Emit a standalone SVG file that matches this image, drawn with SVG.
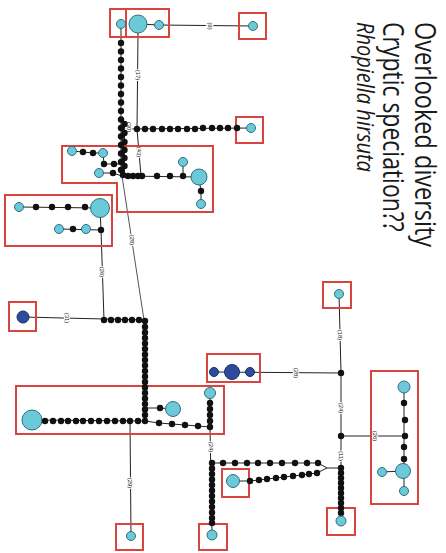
<svg xmlns="http://www.w3.org/2000/svg" width="446" height="553" viewBox="0 0 446 553">
<style>
.bg{fill:#ffffff}
.box{fill:none;stroke:#d9443f;stroke-width:2}
.e{stroke:#222;stroke-width:1;fill:none}
.eg{stroke:#555;stroke-width:1;fill:none}
.c{fill:#6ccad8;stroke:#2e6f82;stroke-width:1}
.b{fill:#2d4c9e;stroke:#1a2d66;stroke-width:1}
.d{fill:#111}
.lbl{font-family:"Liberation Sans",Arial,sans-serif;font-size:6px;fill:#222;text-anchor:middle;dominant-baseline:central;stroke:#fff;stroke-width:2;paint-order:stroke}
.t{font-family:"Open Sans","Liberation Sans",sans-serif;fill:#1a1a1a}
</style>
<rect class="bg" width="446" height="553"/>

<g id="title">
<text class="t" font-size="23.5" transform="translate(415,22) scale(1.25,1) rotate(90)">Overlooked diversity</text>
<text class="t" font-size="23" transform="translate(383,22) scale(1.25,1) rotate(90)">Cryptic speciation??</text>
<text class="t" font-size="20" font-style="italic" transform="translate(357,22) scale(1.15,1) rotate(90)">Rhopiella hirsuta</text>
</g>

<g id="connectors">
<line class="e" x1="121" y1="24" x2="121" y2="176"/>
<line class="e" x1="124.5" y1="122" x2="124.5" y2="176"/>
<line class="e" x1="138" y1="24" x2="159" y2="25"/>
<line class="e" x1="159" y1="25" x2="253" y2="26"/>
<line class="e" x1="138" y1="33" x2="137" y2="129"/>
<line class="e" x1="121" y1="129" x2="251" y2="128"/>
<line class="e" x1="137" y1="129" x2="141" y2="176"/>
<polyline class="e" points="72,151 83,152 93,153 103,153 104,164 114,164 121,164"/>
<polyline class="e" points="99,173 113,173 122,176 199,177"/>
<line class="e" x1="183" y1="162" x2="183" y2="176"/>
<polyline class="e" points="200,185 201,191 201,204"/>
<line class="eg" x1="122" y1="176" x2="144" y2="320"/>
<line class="e" x1="19" y1="207" x2="100" y2="208"/>
<line class="e" x1="59" y1="229" x2="101" y2="230"/>
<line class="e" x1="100" y1="208" x2="101" y2="230"/>
<line class="e" x1="101" y1="230" x2="104" y2="320"/>
<line class="e" x1="23" y1="317" x2="145" y2="320"/>
<line class="e" x1="145" y1="320" x2="145" y2="421"/>
<polyline class="e" points="145,408 160,408 173,409"/>
<polyline class="e" points="32,420 145,421 159,423 172,424 185,425 198,426 210,427 210,393"/>
<line class="e" x1="130" y1="421" x2="131" y2="536"/>
<line class="e" x1="210" y1="427" x2="212" y2="535"/>
<polyline class="e" points="212,463 318,463 327,468 341,468"/>
<polyline class="e" points="233,481 250,481 259,480 267,479 276,478 284,477 293,476 302,475 309,474 317,473 327,468"/>
<line class="e" x1="341" y1="468" x2="341" y2="521"/>
<line class="e" x1="341" y1="468" x2="341" y2="373"/>
<line class="e" x1="341" y1="436" x2="405" y2="436"/>
<line class="e" x1="341" y1="373" x2="214" y2="372"/>
<line class="e" x1="341" y1="373" x2="339" y2="294"/>
<line class="e" x1="404" y1="387" x2="404" y2="491"/>
<line class="e" x1="382" y1="472" x2="403" y2="471"/>

<text class="lbl" transform="translate(210,26) rotate(90)">(9)</text>
<text class="lbl" transform="translate(138,75) rotate(90)">(17)</text>
<text class="lbl" transform="translate(129,127) rotate(90)">(30)</text>
<text class="lbl" transform="translate(139,152) rotate(90)">(43)</text>
<text class="lbl" transform="translate(132,240) rotate(90)">(28)</text>
<text class="lbl" transform="translate(102,272) rotate(90)">(26)</text>
<text class="lbl" transform="translate(67,318) rotate(90)">(31)</text>
<text class="lbl" transform="translate(130,483) rotate(90)">(29)</text>
<text class="lbl" transform="translate(211,447) rotate(90)">(24)</text>
<text class="lbl" transform="translate(296,373) rotate(90)">(28)</text>
<text class="lbl" transform="translate(341,408) rotate(90)">(24)</text>
<text class="lbl" transform="translate(375,436) rotate(90)">(26)</text>
<text class="lbl" transform="translate(341,456) rotate(90)">(11)</text>
<text class="lbl" transform="translate(340,335) rotate(90)">(18)</text>
</g>

<g id="boxes">
<rect class="box" x="110" y="9" width="16" height="28"/>
<rect class="box" x="126" y="9" width="43" height="28"/>
<rect class="box" x="239" y="13" width="27" height="26"/>
<rect class="box" x="236" y="117" width="27" height="26"/>
<polygon class="box" points="62,146 213,146 213,212 117,212 117,183 62,183"/>
<rect class="box" x="5" y="195" width="107" height="51"/>
<rect class="box" x="9" y="302" width="27" height="29"/>
<rect class="box" x="16" y="386" width="208" height="48"/>
<rect class="box" x="116" y="524" width="27" height="26"/>
<rect class="box" x="199" y="524" width="28" height="26"/>
<rect class="box" x="222" y="469" width="27" height="28"/>
<rect class="box" x="327" y="508" width="28" height="27"/>
<rect class="box" x="207" y="354" width="53" height="28"/>
<rect class="box" x="323" y="282" width="28" height="26"/>
<rect class="box" x="371" y="371" width="47" height="133"/>
</g>

<g id="n-top-left"><circle class="c" cx="121" cy="24" r="4.5"/></g>
<g id="n-top-big"><circle class="c" cx="138" cy="24" r="9"/><circle class="c" cx="159" cy="25" r="4.5"/></g>
<g id="n-top-right"><circle class="c" cx="253" cy="26" r="4.5"/></g>
<g id="chain-top">
<circle class="d" cx="121" cy="43" r="3.2"/><circle class="d" cx="121" cy="51.5" r="3.2"/><circle class="d" cx="121" cy="60" r="3.2"/><circle class="d" cx="121" cy="68.5" r="3.2"/><circle class="d" cx="121" cy="77" r="3.2"/><circle class="d" cx="121" cy="85.5" r="3.2"/><circle class="d" cx="121" cy="94" r="3.2"/><circle class="d" cx="121" cy="102.5" r="3.2"/><circle class="d" cx="121" cy="111" r="3.2"/><circle class="d" cx="121" cy="119.5" r="3.2"/><circle class="d" cx="121" cy="128" r="3.2"/><circle class="d" cx="121" cy="136.5" r="3.2"/><circle class="d" cx="121" cy="145" r="3.2"/><circle class="d" cx="121" cy="153.5" r="3.2"/><circle class="d" cx="121" cy="162" r="3.2"/><circle class="d" cx="121" cy="170" r="3.2"/>
<circle class="d" cx="124.5" cy="124" r="3.2"/><circle class="d" cx="124.5" cy="133" r="3.2"/><circle class="d" cx="124.5" cy="142" r="3.2"/><circle class="d" cx="124.5" cy="150" r="3.2"/><circle class="d" cx="124.5" cy="158" r="3.2"/><circle class="d" cx="124.5" cy="166" r="3.2"/><circle class="d" cx="123" cy="175" r="3.2"/>
</g>
<g id="chain-row-top">
<circle class="d" cx="137" cy="129" r="3.2"/><circle class="d" cx="145" cy="129" r="3.2"/><circle class="d" cx="153" cy="129" r="3.2"/><circle class="d" cx="162" cy="129" r="3.2"/><circle class="d" cx="170" cy="129" r="3.2"/><circle class="d" cx="178" cy="129" r="3.2"/><circle class="d" cx="187" cy="129" r="3.2"/><circle class="d" cx="195" cy="129" r="3.2"/><circle class="d" cx="203" cy="128" r="3.2"/><circle class="d" cx="212" cy="128" r="3.2"/><circle class="d" cx="220" cy="128" r="3.2"/><circle class="d" cx="228" cy="128" r="3.2"/><circle class="d" cx="237" cy="128" r="3.2"/>
</g>
<g id="n-row-top-end"><circle class="c" cx="251" cy="128" r="4.5"/></g>

<g id="cluster-c">
<circle class="c" cx="72" cy="151" r="4.5"/><circle class="d" cx="83" cy="152" r="3.2"/><circle class="d" cx="93" cy="153" r="3.2"/><circle class="c" cx="103" cy="153" r="4.5"/>
<circle class="d" cx="104" cy="164" r="3.2"/><circle class="d" cx="114" cy="164" r="3.2"/>
<circle class="c" cx="99" cy="173" r="4.5"/><circle class="d" cx="113" cy="173" r="3.2"/>
<circle class="d" cx="128" cy="176" r="3.2"/><circle class="d" cx="133" cy="176" r="3.2"/><circle class="d" cx="138" cy="176" r="3.2"/><circle class="d" cx="142" cy="176" r="3.2"/>
<circle class="d" cx="157" cy="176" r="3.2"/><circle class="d" cx="170" cy="176" r="3.2"/><circle class="d" cx="183" cy="176" r="3.2"/>
<circle class="c" cx="183" cy="162" r="4.5"/>
<circle class="c" cx="199" cy="177" r="8"/>
<circle class="d" cx="201" cy="191" r="3.2"/><circle class="c" cx="201" cy="204" r="4.5"/>
</g>

<g id="cluster-d">
<circle class="c" cx="19" cy="207" r="4.5"/><circle class="d" cx="36" cy="207" r="3.2"/><circle class="d" cx="52" cy="207" r="3.2"/><circle class="d" cx="68" cy="207" r="3.2"/><circle class="d" cx="85" cy="207" r="3.2"/>
<circle class="c" cx="100" cy="208" r="9.5"/>
<circle class="c" cx="59" cy="229" r="4.5"/><circle class="d" cx="73" cy="229" r="3.2"/><circle class="c" cx="86" cy="229" r="4.5"/><circle class="d" cx="101" cy="230" r="3.2"/>
</g>

<g id="n-blue-left"><circle class="b" cx="23" cy="317" r="6"/></g>
<g id="chain-mid">
<circle class="d" cx="104" cy="320" r="3.2"/><circle class="d" cx="111" cy="320" r="3.2"/><circle class="d" cx="118" cy="320" r="3.2"/><circle class="d" cx="125" cy="320" r="3.2"/><circle class="d" cx="132" cy="320" r="3.2"/><circle class="d" cx="139" cy="320" r="3.2"/><circle class="d" cx="145" cy="321" r="3.2"/>
<circle class="d" cx="145" cy="327" r="3.2"/><circle class="d" cx="145" cy="332.5" r="3.2"/><circle class="d" cx="145" cy="338" r="3.2"/><circle class="d" cx="145" cy="343.5" r="3.2"/><circle class="d" cx="145" cy="349" r="3.2"/><circle class="d" cx="145" cy="354.5" r="3.2"/><circle class="d" cx="145" cy="360" r="3.2"/><circle class="d" cx="145" cy="365.5" r="3.2"/><circle class="d" cx="145" cy="371" r="3.2"/><circle class="d" cx="145" cy="376.5" r="3.2"/><circle class="d" cx="145" cy="382" r="3.2"/><circle class="d" cx="145" cy="387.5" r="3.2"/><circle class="d" cx="145" cy="393" r="3.2"/><circle class="d" cx="145" cy="398.5" r="3.2"/><circle class="d" cx="145" cy="404" r="3.2"/><circle class="d" cx="145" cy="409.5" r="3.2"/><circle class="d" cx="145" cy="415" r="3.2"/><circle class="d" cx="145" cy="421" r="3.2"/>
<circle class="d" cx="160" cy="408" r="3.2"/>
</g>
<g id="cluster-f">
<circle class="c" cx="173" cy="409" r="7.5"/>
<circle class="c" cx="32" cy="420" r="10"/>
<circle class="d" cx="45" cy="421" r="3.2"/><circle class="d" cx="53" cy="421" r="3.2"/><circle class="d" cx="61" cy="421" r="3.2"/><circle class="d" cx="68" cy="421" r="3.2"/><circle class="d" cx="76" cy="421" r="3.2"/><circle class="d" cx="83" cy="421" r="3.2"/><circle class="d" cx="91" cy="421" r="3.2"/><circle class="d" cx="99" cy="421" r="3.2"/><circle class="d" cx="107" cy="421" r="3.2"/><circle class="d" cx="115" cy="421" r="3.2"/><circle class="d" cx="123" cy="421" r="3.2"/><circle class="d" cx="130" cy="421" r="3.2"/><circle class="d" cx="138" cy="421" r="3.2"/>
<circle class="d" cx="159" cy="423" r="3.2"/><circle class="d" cx="172" cy="424" r="3.2"/><circle class="d" cx="185" cy="425" r="3.2"/><circle class="d" cx="198" cy="426" r="3.2"/><circle class="d" cx="210" cy="427" r="3.2"/>
<circle class="d" cx="210" cy="421" r="3.2"/><circle class="d" cx="210" cy="415" r="3.2"/><circle class="d" cx="210" cy="409" r="3.2"/><circle class="d" cx="210" cy="403" r="3.2"/>
<circle class="c" cx="210" cy="393" r="5.5"/>
</g>
<g id="n-bottom-left"><circle class="c" cx="131" cy="536" r="4.5"/></g>

<g id="chain-bottom">
<circle class="d" cx="212" cy="463" r="3.2"/><circle class="d" cx="212" cy="468.5" r="3.2"/><circle class="d" cx="212" cy="474" r="3.2"/><circle class="d" cx="212" cy="479.5" r="3.2"/><circle class="d" cx="212" cy="485" r="3.2"/><circle class="d" cx="212" cy="490.5" r="3.2"/><circle class="d" cx="212" cy="496" r="3.2"/><circle class="d" cx="212" cy="501.5" r="3.2"/><circle class="d" cx="212" cy="507" r="3.2"/><circle class="d" cx="212" cy="512.5" r="3.2"/><circle class="d" cx="212" cy="518" r="3.2"/><circle class="d" cx="212" cy="523" r="3.2"/>
<circle class="d" cx="223" cy="463" r="3.2"/><circle class="d" cx="235" cy="463" r="3.2"/><circle class="d" cx="247" cy="463" r="3.2"/><circle class="d" cx="258" cy="463" r="3.2"/><circle class="d" cx="270" cy="463" r="3.2"/><circle class="d" cx="282" cy="463" r="3.2"/><circle class="d" cx="295" cy="463" r="3.2"/><circle class="d" cx="307" cy="463" r="3.2"/><circle class="d" cx="318" cy="463" r="3.2"/>
<circle class="d" cx="250" cy="481" r="3.2"/><circle class="d" cx="259" cy="480" r="3.2"/><circle class="d" cx="267" cy="479" r="3.2"/><circle class="d" cx="276" cy="478" r="3.2"/><circle class="d" cx="284" cy="477" r="3.2"/><circle class="d" cx="293" cy="476" r="3.2"/><circle class="d" cx="302" cy="475" r="3.2"/><circle class="d" cx="309" cy="474" r="3.2"/><circle class="d" cx="317" cy="473" r="3.2"/>
</g>
<g id="n-bottom-mid"><circle class="c" cx="212" cy="535" r="5"/></g>
<g id="n-box-i"><circle class="c" cx="233" cy="481" r="6.5"/></g>

<g id="chain-right">
<circle class="d" cx="341" cy="468" r="3.2"/><circle class="d" cx="341" cy="473" r="3.2"/><circle class="d" cx="341" cy="478" r="3.2"/><circle class="d" cx="341" cy="483" r="3.2"/><circle class="d" cx="341" cy="488" r="3.2"/><circle class="d" cx="341" cy="493" r="3.2"/><circle class="d" cx="341" cy="498" r="3.2"/><circle class="d" cx="341" cy="503" r="3.2"/><circle class="d" cx="341" cy="508" r="3.2"/><circle class="d" cx="341" cy="513" r="3.2"/>
<circle class="d" cx="341" cy="436" r="3.2"/><circle class="d" cx="341" cy="373" r="3.2"/>
</g>
<g id="n-bottom-right"><circle class="c" cx="341" cy="521" r="5"/></g>
<g id="n-right-top"><circle class="c" cx="339" cy="294" r="4.5"/></g>
<g id="cluster-blue">
<circle class="b" cx="214" cy="372" r="4.5"/><circle class="b" cx="232" cy="372" r="7.5"/><circle class="b" cx="250" cy="372" r="4.5"/>
</g>
<g id="cluster-k">
<circle class="c" cx="404" cy="387" r="6"/><circle class="d" cx="404" cy="403" r="3.2"/><circle class="d" cx="405" cy="420" r="3.2"/><circle class="d" cx="405" cy="436" r="3.2"/><circle class="d" cx="404" cy="447" r="3.2"/><circle class="d" cx="404" cy="459" r="3.2"/>
<circle class="c" cx="382" cy="472" r="4.5"/><circle class="c" cx="403" cy="471" r="7.5"/><circle class="c" cx="404" cy="491" r="4.5"/>
</g>
</svg>
